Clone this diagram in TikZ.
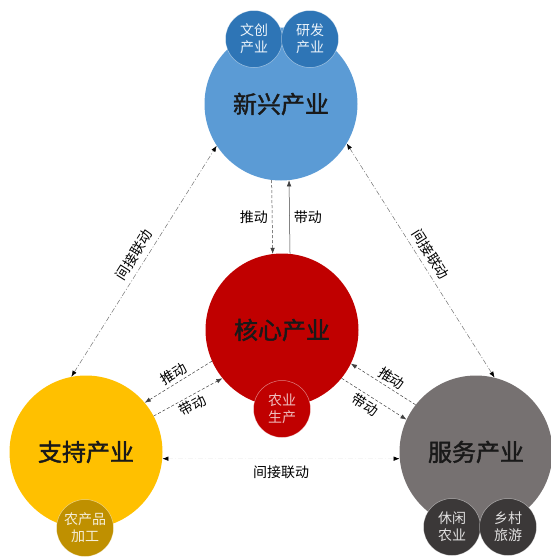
\documentclass[tikz,border=0pt]{standalone}
\usepackage{fontspec}
\newfontfamily\cjk{Noto Sans CJK SC}
\newfontfamily\cjkb{Noto Sans CJK SC}[FakeBold=1.6]
\usetikzlibrary{arrows.meta}

\definecolor{newblue}{HTML}{5B9BD5}
\definecolor{newdark}{HTML}{2E75B6}
\definecolor{corered}{HTML}{C00000}
\definecolor{supyellow}{HTML}{FFC000}
\definecolor{supdark}{HTML}{BF9000}
\definecolor{servgray}{HTML}{767171}
\definecolor{servdark}{HTML}{3B3838}

\tikzset{
  bigcircle/.style={circle,minimum size=153pt,inner sep=0pt,
    font=\cjkb\fontsize{24}{24}\selectfont,text=black!90},
  smallcircle/.style={circle,minimum size=57pt,inner sep=0pt,align=center,
    font=\cjk\fontsize{14}{17}\selectfont,draw=white,draw opacity=0.5,line width=0.5pt},
  tipsmall/.style={-{Latex[length=6pt,width=4.5pt]}},
  pushline/.style={tipsmall,black!75,line width=0.5pt,dash pattern=on 3pt off 2pt},
  driveline/.style={tipsmall,black!75,line width=0.5pt},
  linkline/.style={{Latex[length=6pt,width=4.5pt,color=black]}-{Latex[length=6pt,width=4.5pt,color=black]},
    black!55,line width=0.5pt,dash pattern=on 5pt off 2pt on 1pt off 2pt},
  lbl/.style={font=\cjk\fontsize{14}{14}\selectfont,text=black,inner sep=1pt}
}

\begin{document}
\begin{tikzpicture}[x=1pt,y=-1pt]
\useasboundingbox (0,0) rectangle (551,560);

% big circles
\node[bigcircle,fill=newblue] (emerging) at (281,104) {新兴产业};
\node[bigcircle,fill=corered] (core) at (282,330) {核心产业};
\node[bigcircle,fill=supyellow] (support) at (86,452) {支持产业};
\node[bigcircle,fill=servgray] (service) at (476,452) {服务产业};

% small circles
\node[smallcircle,fill=newdark,text=white!88!newblue] (culture) at (254,39) {文创\\产业};
\node[smallcircle,fill=newdark,text=white!88!newblue] (research) at (310,39) {研发\\产业};
\node[smallcircle,fill=corered,text=white!75!corered] (farming) at (282,409) {农业\\生产};
\node[smallcircle,fill=supdark,text=white!85!supdark] (processing) at (85,528) {农产品\\加工};
\node[smallcircle,fill=servdark,text=white!85!servdark] (leisure) at (452,527) {休闲\\农业};
\node[smallcircle,fill=servdark,text=white!85!servdark] (tourism) at (508,527) {乡村\\旅游};

% emerging <-> core
\draw[pushline] (emerging.-97) -- (core.97) node[midway,left=3pt,lbl]{推动};
\draw[driveline] (core.84) -- (emerging.-84) node[midway,right=3pt,lbl]{带动};

% core <-> support
\draw[pushline] (core.204) -- (support.40) node[midway,sloped,above=2pt,lbl]{推动};
\draw[pushline] (support.28) -- (core.219) node[midway,sloped,below=2pt,lbl]{带动};

% core <-> service
\draw[pushline] (service.142) -- (core.-26) node[pos=0.45,sloped,above=2pt,lbl]{推动};
\draw[pushline] (core.-39) -- (service.155) node[pos=0.45,sloped,below=2pt,lbl]{带动};

% indirect links
\draw[linkline] (support.101) -- (emerging.213) node[midway,sloped,above=4pt,lbl]{间接联动};
\draw[linkline] (emerging.-31) -- (service.76) node[midway,sloped,above=4pt,lbl]{间接联动};
\draw[linkline,draw=black!4] (support.-5) -- (service.185) node[midway,below=6pt,lbl]{间接联动};
\end{tikzpicture}
\end{document}
